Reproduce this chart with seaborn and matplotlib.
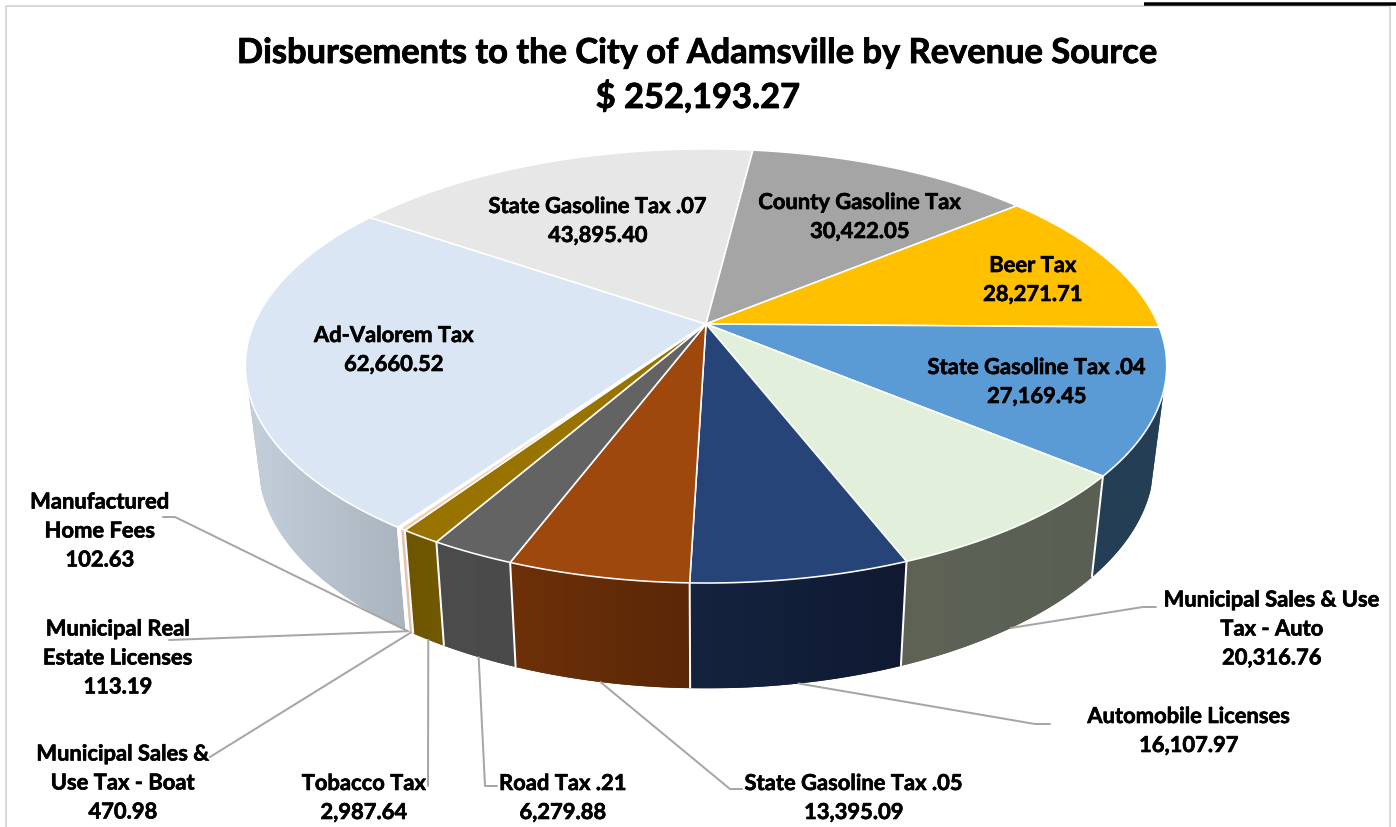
import numpy as np
import matplotlib
matplotlib.use("Agg")
import matplotlib.pyplot as plt
import matplotlib.patheffects as pe
from matplotlib.colors import to_rgb
from matplotlib.patches import Polygon
import seaborn as sns

# ---- data (clockwise, starting at Ad-Valorem) ----
labels = ["Ad-Valorem Tax", "State Gasoline Tax .07", "County Gasoline Tax", "Beer Tax",
          "State Gasoline Tax .04", "Municipal Sales & Use\nTax - Auto", "Automobile Licenses",
          "State Gasoline Tax .05", "Road Tax .21", "Tobacco Tax",
          "Municipal Sales &\nUse Tax - Boat", "Municipal Real\nEstate Licenses",
          "Manufactured\nHome Fees"]
values = [62660.52, 43895.40, 30422.05, 28271.71, 27169.45, 20316.76, 16107.97,
          13395.09, 6279.88, 2987.64, 470.98, 113.19, 102.63]
top_colors = ["#DAE6F3", "#E7E7E7", "#A5A5A5", "#FFC000", "#5B9BD5", "#E2EFDA", "#264478",
              "#9E480E", "#636363", "#997300", "#F8CBAD", "#F8CBAD", "#FFFFFF"]
wall_start = ["#AAB4BF", "#A0A0A0", "#707070", "#A08000", "#243F55", "#5A5F54", "#0F1A32",
              "#5A2707", "#4A4A4A", "#715800", "#E4C2AE", "#E4C2AE", "#FFFFFF"]
wall_end = ["#C3CFDA", "#A0A0A0", "#707070", "#A08000", "#243F55", "#5E6356", "#15233F",
            "#6E3109", "#4C4C4C", "#6E5600", "#E4C2AE", "#E4C2AE", "#FFFFFF"]
label_pos = [(394, 351), (598, 222), (860, 218), (1033, 281), (1037, 383), (1272, 630),
             (1189, 732), (854, 799), (563, 799), (364, 799), (123, 784), (118, 659), (100, 532)]
# leader label-side vertices (pixels); None = label sits on the slice
leader_ends = [None, None, None, None, None,
               [(1143, 608), (1156, 608)], [(1035, 725), (1050, 725)],
               [(730, 790), (742, 790)], [(485, 787), (497, 787)], [(428, 787)],
               [(210, 758)], [(169, 641)], [(175, 518), (163, 518)]]

TITLE = "Disbursements to the City of Adamsville by Revenue Source"

# ---- projection parameters ----
START = 235.0
CX, CY = 706, 325
A, B, K = 452, 208.9, 0.1935
BX, BY, BC = 0.972, 1.04, -95
WALL_SIN = -0.30  # the wall's silhouette tangent


def top_xy(t):
    t = np.radians(t)
    d = 1 + K * np.sin(t)
    return A * np.cos(t) / d, B * np.sin(t) / d


def px_top(t):
    x, y = top_xy(t)
    return CX + x, CY - y


def px_bottom(t):
    x, y = top_xy(t)
    return CX + BX * x, CY - (BC + BY * y)


sns.set_theme(style="white")
plt.rcParams["font.family"] = ["Lato", "DejaVu Sans"]

fig, ax = plt.subplots(figsize=(13.96, 8.28), dpi=100)
fig.subplots_adjust(0, 0, 1, 1)
ax.axis("off")
PX = 0.72  # one pixel in points

values_arr = np.array(values)
total = values_arr.sum()
edges = START - np.concatenate([[0], np.cumsum(values_arr)]) / total * 360

# walls: one clipped horizontal gradient per slice
for i in range(len(values)):
    ts = np.arange(edges[i], edges[i + 1] - 0.2, -0.2)
    ts = np.r_[ts, edges[i + 1]]
    ts = ts[np.sin(np.radians(ts)) < WALL_SIN]
    if len(ts) < 2:
        continue
    xt, yt = px_top(ts)
    xb, yb = px_bottom(ts)
    pts = np.c_[np.r_[xt, xb[::-1]], np.r_[yt, yb[::-1]]]
    poly = Polygon(pts, closed=True, facecolor=wall_start[i], edgecolor="none", zorder=2)
    ax.add_patch(poly)
    c_start, c_end = np.array(to_rgb(wall_start[i])), np.array(to_rgb(wall_end[i]))
    grad = np.linspace(c_end, c_start, 128)[None, :, :]  # clockwise runs right to left in front
    img = ax.imshow(grad, extent=(pts[:, 0].min(), pts[:, 0].max(), pts[:, 1].max(), pts[:, 1].min()),
                    aspect="auto", zorder=2.1, interpolation="bilinear")
    img.set_clip_path(poly)

# wall separators
for e in edges:
    if np.sin(np.radians(e)) < WALL_SIN:
        p, q = px_top(e), px_bottom(e)
        ax.plot([p[0], q[0]], [p[1], q[1]], color="white", lw=2 * PX, zorder=3,
                solid_capstyle="butt")

# top face
for i in range(len(values)):
    n = max(2, int(abs(edges[i] - edges[i + 1]) / 0.4))
    x, y = px_top(np.linspace(edges[i], edges[i + 1], n + 1))
    ax.fill(np.r_[CX, x], np.r_[CY, y], facecolor=top_colors[i], edgecolor="white",
            linewidth=1.6 * PX, joinstyle="round", zorder=4)

# leaders
for i, ends in enumerate(leader_ends):
    if ends is None:
        continue
    mid = (edges[i] + edges[i + 1]) / 2
    sx, sy = px_bottom(mid)
    lx = [float(sx)] + [p[0] for p in ends]
    ly = [float(sy)] + [p[1] for p in ends]
    sns.lineplot(x=lx, y=ly, sort=False, estimator=None, color="#A6A6A6",
                 linewidth=2 * PX, ax=ax, zorder=5)

# labels
heavy = [pe.withStroke(linewidth=0.45, foreground="black")]
FS = 15.8
for lab, v, (x, y) in zip(labels, values, label_pos):
    ax.text(x, y, f"{lab}\n{v:,.2f}", ha="center", va="center", fontsize=FS,
            fontweight="bold", color="black", linespacing=1.47, zorder=6, path_effects=heavy)

heavy_t = [pe.withStroke(linewidth=0.6, foreground="black")]
ax.text(698, 54, TITLE, ha="center", va="center", fontsize=24.8, fontweight="bold",
        color="black", path_effects=heavy_t)
ax.text(698, 98, f"$ {total:,.2f}", ha="center", va="center", fontsize=24.8, fontweight="bold",
        color="black", path_effects=heavy_t)

# frame
ax.plot([6, 6, 1390, 1390], [828, 7, 7, 828], color="#D9D9D9", lw=2 * PX, zorder=1)
ax.plot([1144, 1396], [4.5, 4.5], color="black", lw=3.5 * PX, zorder=1, solid_capstyle="butt")
ax.set_xlim(0, 1396)
ax.set_ylim(828, 0)

fig.savefig("out.png", dpi=100, facecolor="white")
